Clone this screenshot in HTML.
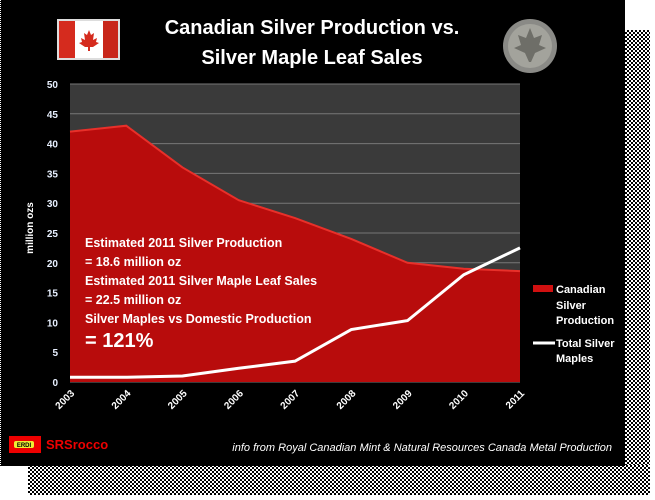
<!DOCTYPE html>
<html><head><meta charset="utf-8"><style>
html,body{margin:0;padding:0;background:#fff;}
body{width:655px;height:500px;position:relative;overflow:hidden;font-family:"Liberation Sans",sans-serif;}
.chk{position:absolute;background-color:#fff;background-image:linear-gradient(45deg,#000 25%,transparent 25%,transparent 75%,#000 75%),linear-gradient(45deg,#000 25%,transparent 25%,transparent 75%,#000 75%);background-size:4px 4px;background-position:0 0,2px 2px;}
</style></head><body>
<div class="chk" style="left:625px;top:30px;width:25px;height:440px"></div>
<div class="chk" style="left:28px;top:465px;width:622px;height:30px"></div>
<svg width="625" height="466" style="position:absolute;left:0;top:0" xmlns="http://www.w3.org/2000/svg">
<rect x="0" y="0" width="625" height="466" fill="#000"/>
<line x1="0.5" y1="0" x2="0.5" y2="466" stroke="#fff" stroke-dasharray="1,1"/>
<g>
<rect x="57" y="19" width="63" height="41" fill="#ddd"/>
<rect x="59" y="21" width="59" height="37" fill="#fff"/>
<rect x="59" y="21" width="16" height="37" fill="#d52b1e"/>
<rect x="103" y="21" width="15" height="37" fill="#c8261a"/>
<path d="M89 30 L91 35 L94 33 L93 40 L97 38 L96 42 L99 43 L93 47 L90 47 L90 51 L88 51 L88 47 L85 47 L79 43 L82 42 L81 38 L85 40 L84 33 L87 35 Z" fill="#d52b1e"/>
</g>
<g>
<circle cx="530" cy="46" r="27" fill="#8a8a86"/>
<circle cx="530" cy="46" r="22" fill="#a3a39c"/>
<path d="M530 28 L534 38 L542 35 L539 45 L546 48 L535 53 L531 62 L529 62 L525 53 L514 48 L521 45 L518 35 L526 38 Z" fill="#6e6e68"/>
</g>
<text x="312" y="34" fill="#fff" font-size="20" font-weight="bold" text-anchor="middle">Canadian Silver Production vs.</text>
<text x="312" y="64" fill="#fff" font-size="20" font-weight="bold" text-anchor="middle">Silver Maple Leaf Sales</text>
<g id="plot"></g>
<text transform="translate(33,228) rotate(-90)" fill="#fff" font-size="10" font-weight="bold" text-anchor="middle">million ozs</text>
<g fill="#fff" font-weight="bold" font-size="12.5">
<text x="85" y="247">Estimated 2011 Silver Production</text>
<text x="85" y="266">= 18.6 million oz</text>
<text x="85" y="285">Estimated 2011 Silver Maple Leaf Sales</text>
<text x="85" y="304">= 22.5 million oz</text>
<text x="85" y="323">Silver Maples vs Domestic Production</text>
<text x="85" y="347" font-size="20">= 121%</text>
</g>
<g fill="#fff" font-weight="bold" font-size="11">
<rect x="533" y="285" width="20" height="7" fill="#d01010"/>
<text x="556" y="293">Canadian</text>
<text x="556" y="309">Silver</text>
<text x="556" y="324">Production</text>
<line x1="533" y1="343" x2="555" y2="343" stroke="#fff" stroke-width="3"/>
<text x="556" y="347">Total Silver</text>
<text x="556" y="362">Maples</text>
</g>
<g>
<rect x="9" y="436" width="32" height="17" fill="#e00"/>
<rect x="14" y="441" width="20" height="7" fill="#ee3" rx="2"/>
<text x="24" y="447" font-size="6" font-weight="bold" text-anchor="middle" fill="#000">ERDI</text>
<text x="46" y="449" font-size="13" font-weight="bold" fill="#e00">SRSrocco</text>
</g>
<text x="612" y="451" fill="#fff" font-size="11" font-style="italic" text-anchor="end">info from Royal Canadian Mint &amp; Natural Resources Canada Metal Production</text>
</svg>
<script>
const years=["2003","2004","2005","2006","2007","2008","2009","2010","2011"];
const production=[42,43,36,30.5,27.5,24,20,19,18.6];
const maples=[0.8,0.8,1,2.3,3.5,8.8,10.3,18,22.5];
const yTicks=[0,5,10,15,20,25,30,35,40,45,50];
(function(){
const NS="http://www.w3.org/2000/svg";
const X0=70,X1=520,Y0=382,Y1=84,YMAX=50;
const xs=i=>X0+i*(X1-X0)/(years.length-1);
const ys=v=>Y0-v/YMAX*(Y0-Y1);
const g=document.getElementById('plot');
function mk(t,a){const e=document.createElementNS(NS,t);for(const k in a)e.setAttribute(k,a[k]);g.appendChild(e);return e;}
const bg=mk('rect',{x:X0,y:Y1,width:X1-X0,height:Y0-Y1,fill:'#3a3a3a'});


yTicks.forEach(v=>{
 const l=mk('line',{x1:X0,x2:X1,y1:ys(v),y2:ys(v),stroke:'#777','stroke-width':1});
 
 
 const t=mk('text',{x:58,y:ys(v)+4,fill:'#e8f0ff','font-size':10,'font-weight':'bold','text-anchor':'end'});
 t.textContent=v;
 
 
});
let d='M'+xs(0)+','+ys(0);
production.forEach((v,i)=>d+=' L'+xs(i)+','+ys(v));
d+=' L'+xs(production.length-1)+','+ys(0)+' Z';
const area=mk('path',{d:d,fill:'#b80c0c'});


const edge=mk('polyline',{points:production.map((v,i)=>xs(i)+','+ys(v)).join(' '),fill:'none',stroke:'#e8302a','stroke-width':2});


const ml=mk('polyline',{points:maples.map((v,i)=>xs(i)+','+ys(v)).join(' '),fill:'none',stroke:'#fff','stroke-width':3});


years.forEach((y,i)=>{
 const t=mk('text',{transform:'translate('+(xs(i)+5)+',394) rotate(-45)',fill:'#fff','font-size':10,'font-weight':'bold','text-anchor':'end'});
 t.textContent=y;
 
 
});
})();
</script>
</body></html>
